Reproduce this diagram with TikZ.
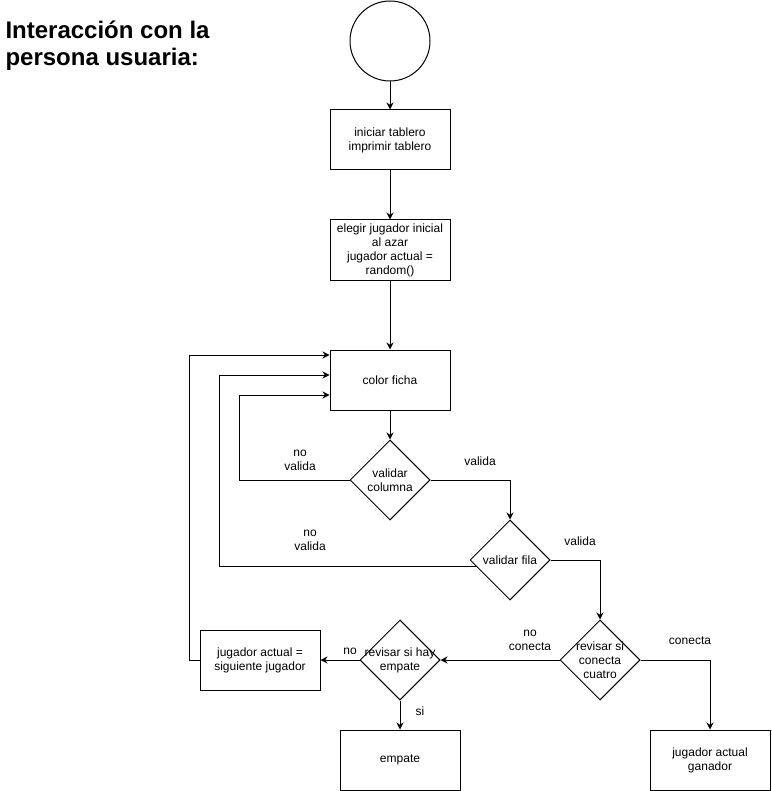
\documentclass[tikz,border=0pt]{standalone}
\usepackage{fontspec}
\setmainfont{Liberation Sans}
\usetikzlibrary{arrows.meta,shapes.geometric,positioning}

\tikzset{
  caja/.style={draw, minimum width=120pt, minimum height=60pt, align=center, inner sep=1pt},
  rombo/.style={draw, diamond, minimum width=80pt, minimum height=80pt, inner sep=0pt},
  flecha/.style={-{Stealth[length=7pt,width=7pt]}},
  etiqueta/.style={align=center, inner sep=0pt},
}

\begin{document}
\begin{tikzpicture}[x=1pt,y=-1pt,line width=1pt,font=\fontsize{12}{14}\selectfont]
\useasboundingbox (0,0) rectangle (771,791);

\node[anchor=north west, align=left, inner sep=0pt, font=\bfseries\fontsize{24}{27}\selectfont] (titulo) at (5,20) {Interacción con la\\persona usuaria:};

\node[draw, circle, minimum size=80pt, inner sep=0pt] (inicio) at (390,41) {};
\node[caja] (tablero) at (390,140) {iniciar tablero\\imprimir tablero};
\node[caja] (elegir) at (390,250) {elegir jugador inicial\\al azar\\jugador actual =\\random()};
\node[caja] (color) at (390,380) {color ficha};

\node[rombo, label={[etiqueta]center:validar\\columna}] (vcol) at (390,480) {};
\node[rombo, label={[etiqueta]center:validar fila}] (vfila) at (510,560) {};
\node[rombo, label={[etiqueta]center:revisar si\\conecta\\cuatro}] (vcon) at (600,660) {};
\node[rombo, label={[etiqueta]center:revisar si hay\\empate}] (vemp) at (400,660) {};

\node[caja] (siguiente) at (260,660) {jugador actual =\\siguiente jugador};
\node[caja] (empate) at (400,760) {empate};
\node[caja] (ganador) at (710,760) {jugador actual\\ganador};

\draw[flecha] (inicio) -- (tablero);
\draw[flecha] (tablero) -- (elegir);
\draw[flecha] (elegir) -- (color);
\draw[flecha] (color) -- (vcol);
\draw[flecha] (vcol.east) -| (vfila.north);
\draw[flecha] (vcol.west) -- ++(-110,0) |- ([yshift=-15pt]color.west);
\draw[flecha] (vfila.east) -| (vcon.north);
\draw[flecha] (vfila.190) -- ++(-256,0) |- ([yshift=5pt]color.west);
\draw[flecha] (vcon.east) -| (ganador.north);
\draw[flecha] (vcon.west) -- (vemp.east);
\draw[flecha] (vemp.west) -- (siguiente.east);
\draw[flecha] (vemp.south) -- (empate.north);
\draw[flecha] (siguiente.west) -- ++(-10,0) |- ([yshift=25pt]color.west);

\node[etiqueta] (lvcol) at (480,461) {valida};
\node[etiqueta] (lnvcol) at (300,460) {no\\valida};
\node[etiqueta] (lvfila) at (580,541) {valida};
\node[etiqueta] (lnvfila) at (310,540) {no\\valida};
\node[etiqueta] (lcon) at (690,641) {conecta};
\node[etiqueta] (lncon) at (530,640) {no\\conecta};
\node[etiqueta] (lno) at (350,651) {no};
\node[etiqueta] (lsi) at (420,711) {si};
\end{tikzpicture}
\end{document}
